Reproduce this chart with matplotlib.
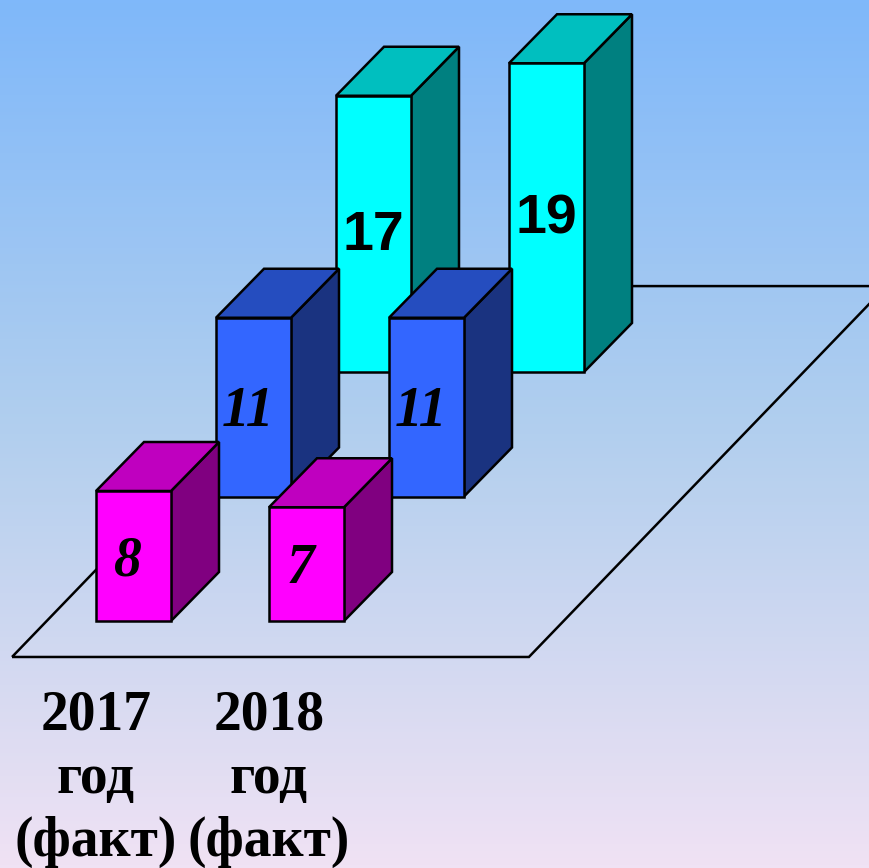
import numpy as np
import matplotlib
matplotlib.use("Agg")
import matplotlib.pyplot as plt
from matplotlib.patches import Polygon
from matplotlib.colors import LinearSegmentedColormap

# data
categories = ["2017\nгод\n(факт)", "2018\nгод\n(факт)"]
series_magenta = [8, 7]
series_blue = [11, 11]
series_cyan = [17, 19]

# oblique "3d" layout, in pixels
COL_STEP = 173
ROW_DX, ROW_DY = 120, 124.5
UNIT = 16.25
BAR_W = 75
DEPTH_DX, DEPTH_DY = 48, 49
X0, Y0 = 96, 621


def proj(col, row, v, dx=0.0, dd=0.0):
    x = X0 + col * COL_STEP + row * ROW_DX + dx + dd * DEPTH_DX
    y = Y0 - row * ROW_DY - v * UNIT - dd * DEPTH_DY
    return x, y


def draw_bar(ax, col, row, val, front, top, side):
    lw = 1.8
    face = [proj(col, row, 0, 0), proj(col, row, 0, BAR_W),
            proj(col, row, val, BAR_W), proj(col, row, val, 0)]
    roof = [proj(col, row, val, 0), proj(col, row, val, BAR_W),
            proj(col, row, val, BAR_W, 1), proj(col, row, val, 0, 1)]
    wall = [proj(col, row, 0, BAR_W), proj(col, row, val, BAR_W),
            proj(col, row, val, BAR_W, 1), proj(col, row, 0, BAR_W, 1)]
    for pts, c in ((wall, side), (roof, top), (face, front)):
        ax.add_patch(Polygon(pts, closed=True, facecolor=c, edgecolor="black",
                             lw=lw, joinstyle="miter"))


def main():
    fig = plt.figure(figsize=(8.69, 8.68), dpi=100)
    ax = fig.add_axes([0, 0, 1, 1])
    ax.set_xlim(0, 869)
    ax.set_ylim(868, 0)
    ax.axis("off")

    # background gradient
    cmap = LinearSegmentedColormap.from_list(
        "bg", [(0, "#7fb8fa"), (0.5, "#b2cfee"), (1, "#f0e2f4")])
    grad = np.linspace(0, 1, 256).reshape(-1, 1)
    ax.imshow(grad, cmap=cmap, extent=[0, 869, 868, 0], aspect="auto", zorder=0)

    # floor
    floor = [proj(-0.285, -0.289, 0), proj(2.703, -0.289, 0),
             proj(2.703, 2.69, 0), proj(-0.285, 2.69, 0)]
    ax.add_patch(Polygon(floor, closed=True, facecolor="none",
                         edgecolor="black", lw=1.8))

    rows = [
        (series_magenta, "#ff00ff", "#bf00bf", "#800080"),
        (series_blue, "#3366ff", "#254dbf", "#1a3380"),
        (series_cyan, "#00ffff", "#00bfbf", "#008080"),
    ]
    # back row first
    for row in (2, 1, 0):
        vals, front, top, side = rows[row]
        for col, val in enumerate(vals):
            draw_bar(ax, col, row, val, front, top, side)
            x, y = proj(col, row, val / 2, BAR_W / 2)
            if row == 2:
                ax.text(x, y + 16, str(val), ha="center", va="baseline",
                        fontsize=40, fontweight="bold",
                        family="Liberation Sans")
            else:
                ax.text(x - 6, y + 19, str(val), ha="center", va="baseline",
                        fontsize=40, fontweight="bold", fontstyle="italic",
                        family="Liberation Serif")

    for col, lab in enumerate(categories):
        x, _ = proj(col, 0, 0)
        ax.text(x, 690, lab, ha="center", va="top", fontsize=40,
                fontweight="bold", family="Liberation Serif", linespacing=1.27)

    fig.savefig("out.png", dpi=100)


if __name__ == "__main__":
    main()
